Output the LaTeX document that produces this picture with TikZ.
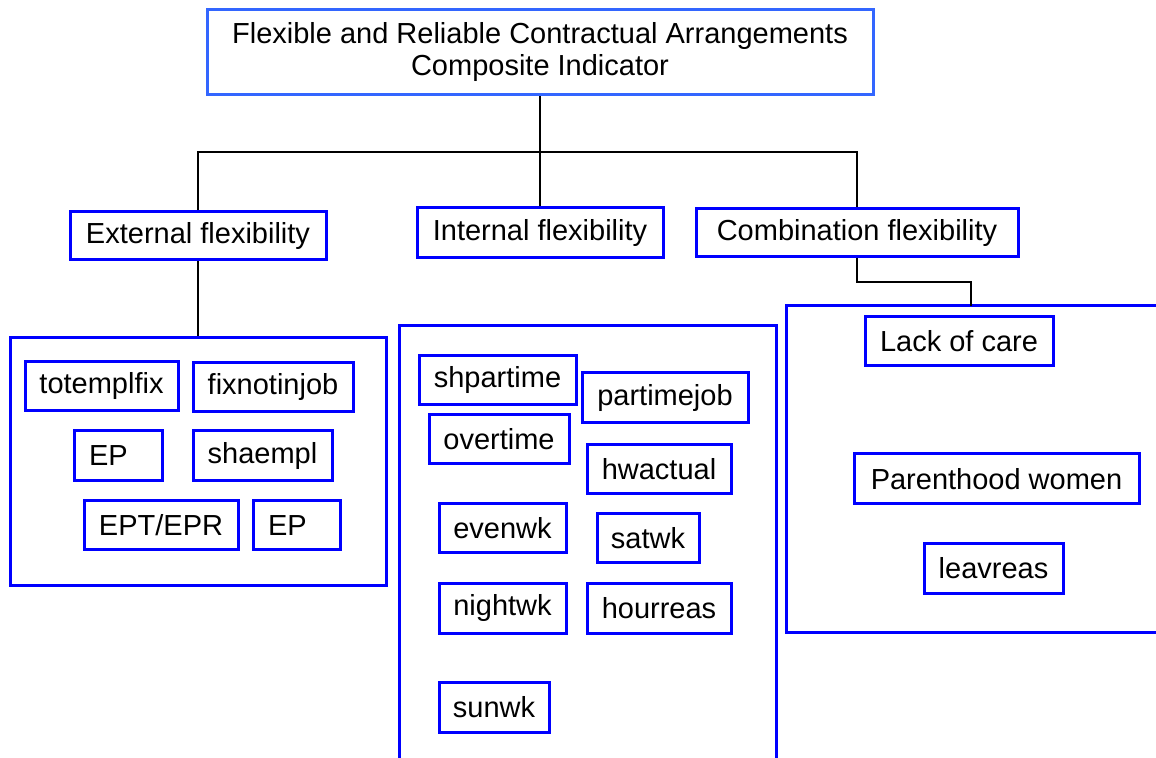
\documentclass[tikz,border=0pt]{standalone}
\usepackage{fontspec}
\setmainfont{Liberation Sans}
\definecolor{boxblue}{RGB}{0,0,255}
\definecolor{topblue}{RGB}{51,102,255}
\tikzset{
	vbox/.style={draw=boxblue,line width=1.5pt,fill=white,inner sep=0pt,align=center},
	sz/.style 2 args={minimum width=#1*0.5pt,minimum height=#2*0.5pt},
	lbox/.style={vbox,align=left,inner xsep=7.5pt,text width=#1*0.5pt-15pt},
	link/.style={draw=black,line width=0.75pt}
}
\begin{document}
\begin{tikzpicture}[x=0.5pt,y=-0.5pt,line join=miter,font=\fontsize{14.5}{16}\selectfont]
		%==page frame (pixels)
		\useasboundingbox (0,0) rectangle (1156,758);
		%==top level
		\node[vbox,draw=topblue,sz={666}{85}] (top) at (540,52.5) {Flexible and Reliable Contractual Arrangements\\Composite Indicator};
		\node[vbox,sz={256}{48}] (ext) at (198,236) {External flexibility};
		\node[vbox,sz={246}{50}] (int) at (540,233) {Internal flexibility};
		\node[vbox,sz={322}{48}] (comb) at (857,233) {Combination flexibility};
		\coordinate (J) at (540,152);
		\draw[link,line width=1pt] (top.south)--(J);
		\draw[link] (ext.north)|-(J)-|(comb.north);
		\draw[link] (J)--(int.north);
		%==external group
		\node[vbox,fill=none,sz={376}{247}] (extgroup) at (198,461.5) {};
		\draw[link] (ext.south)--(ext.south|-extgroup.north);
		\node[vbox,sz={153}{49}] (totemplfix) at (101.5,386.5) {totemplfix};
		\node[vbox,sz={160}{49}] (fixnotinjob) at (273,387) {fixnotinjob};
		\node[lbox=88,sz={88}{50}] (epa) at (118,456) {EP};
		\node[vbox,sz={139}{50}] (shaempl) at (262.5,456) {shaempl};
		\node[vbox,sz={154}{49}] (eptepr) at (161,525.5) {EPT/EPR};
		\node[lbox=87,sz={87}{49}] (epb) at (296.5,525.5) {EP};
		%==internal group (open at the bottom)
		\draw[draw=boxblue,line width=1.5pt] (399,758)--(399,326)--(776,326)--(776,758);
		\node[vbox,sz={157}{49}] (shpartime) at (497.5,380.5) {shpartime};
		\node[vbox,sz={166}{50}] (partimejob) at (665,398) {partimejob};
		\node[vbox,sz={140}{49}] (overtime) at (499,439.5) {overtime};
		\node[vbox,sz={144}{49}] (hwactual) at (659,469.5) {hwactual};
		\node[vbox,sz={127}{49}] (evenwk) at (502.5,528.5) {evenwk};
		\node[vbox,sz={102}{49}] (satwk) at (648,538.5) {satwk};
		\node[vbox,sz={127}{50}] (nightwk) at (502.5,608) {nightwk};
		\node[vbox,sz={144}{50}] (hourreas) at (659,608) {hourreas};
		\node[vbox,sz={110}{50}] (sunwk) at (494,707) {sunwk};
		%==combination group (open at the right)
		\draw[draw=boxblue,line width=1.5pt] (1156,306)--(786,306)--(786,632)--(1156,632);
		\coordinate (R) at (971,306);
		\draw[link] (comb.south)|-(971,282)--(R);
		\node[vbox,sz={188}{49}] (lack) at (959,341.5) {Lack of care};
		\node[vbox,sz={285}{50}] (parent) at (996.5,479) {Parenthood women};
		\node[vbox,sz={139}{49}] (leavreas) at (993.5,568.5) {leavreas};
\end{tikzpicture}
\end{document}
